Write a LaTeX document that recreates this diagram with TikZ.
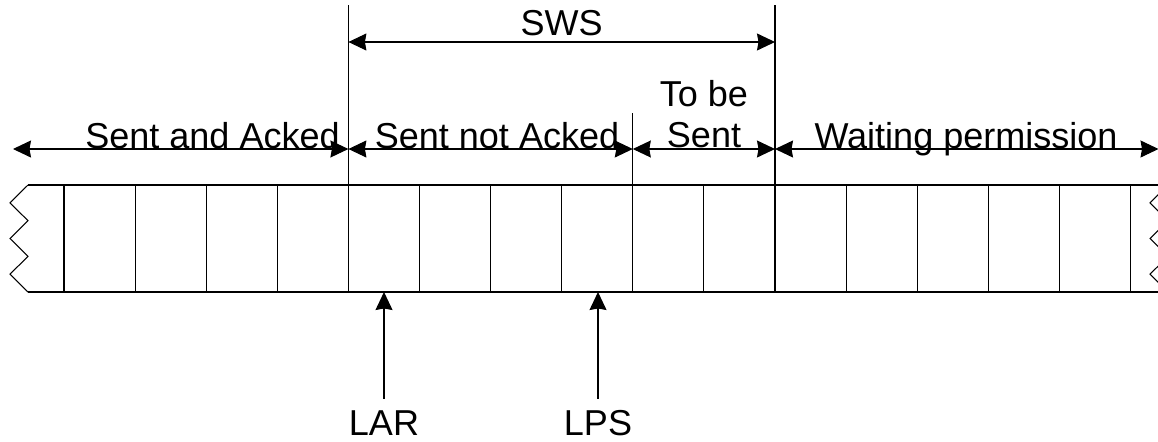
\documentclass[tikz,border=0pt]{standalone}
\usepackage{fontspec}
\setmainfont{Liberation Sans}
\usetikzlibrary{arrows.meta}
\tikzset{
  wire/.style={line width=0.6pt},
  dim/.style={line width=0.6pt, {Stealth[length=0.36cm,width=0.34cm,inset=0.03cm]}-{Stealth[length=0.36cm,width=0.34cm,inset=0.03cm]}},
  ptr/.style={line width=0.6pt, -{Stealth[length=0.36cm,width=0.34cm,inset=0.03cm]}},
  lbl/.style={font=\fontsize{20.5}{23.3}\selectfont, inner sep=0pt},
}

\begin{document}
\begin{tikzpicture}
\useasboundingbox (0,0) rectangle (23.16,8.82);
\begin{scope}
\clip (0,0) rectangle (23.16,8.82);
% buffer strip, cut off at both ends
\draw[wire] (0.56,5.12) -- (23.36,5.12);
\draw[wire] (0.56,2.98) -- (23.36,2.98);
\draw[wire] (0.56,5.12) -- (0.2,4.763) -- (0.56,4.406) -- (0.2,4.05) -- (0.56,3.693) -- (0.2,3.337) -- (0.56,2.98);
\draw[wire] (23.36,5.12) -- (23.0,4.763) -- (23.36,4.406) -- (23.0,4.05) -- (23.36,3.693) -- (23.0,3.337) -- (23.36,2.98);
\foreach \i in {0,...,15}
  \draw[wire] (1.28+1.422*\i,2.98) -- (1.28+1.422*\i,5.12);
% window borders
\draw[wire] (6.968,8.72) -- (6.968,5.12);
\draw[wire] (15.5,8.72) -- (15.5,5.12);
\draw[wire] (12.656,6.56) -- (12.656,5.12);

\coordinate (bufL) at (0.26,5.84);
\coordinate (winL) at (6.968,5.84);
\coordinate (nxt) at (12.656,5.84);
\coordinate (winR) at (15.5,5.84);
\coordinate (bufR) at (23.17,5.84);
\coordinate (swsL) at (6.968,7.98);
\coordinate (swsR) at (15.5,7.98);
\coordinate (larTip) at (7.68,2.98);
\coordinate (lpsTip) at (11.96,2.98);

\draw[dim] (swsL) -- (swsR);
\draw[dim] (bufL) -- (winL);
\draw[dim] (winL) -- (nxt);
\draw[dim] (nxt) -- (winR);
\draw[dim] (winR) -- (bufR);

\node[lbl, anchor=base] (sws) at (11.234,8.12) {SWS};
\node[lbl, anchor=base] (acked) at (4.25,5.86) {Sent and Acked};
\node[lbl, anchor=base] (unacked) at (9.94,5.86) {Sent not Acked};
\node[lbl, anchor=south, align=center] (tobe) at (14.08,5.86) {To be\\Sent};
\node[lbl, anchor=base] (waiting) at (19.32,5.86) {Waiting permission};

% pointers under the strip
\node[lbl, anchor=base] (lar) at (7.68,0.11) {LAR};
\node[lbl, anchor=base] (lps) at (11.96,0.11) {LPS};
\draw[ptr, shorten <=0.23cm] (lar.north) -- (larTip);
\draw[ptr, shorten <=0.23cm] (lps.north) -- (lpsTip);
\end{scope}
\end{tikzpicture}
\end{document}
